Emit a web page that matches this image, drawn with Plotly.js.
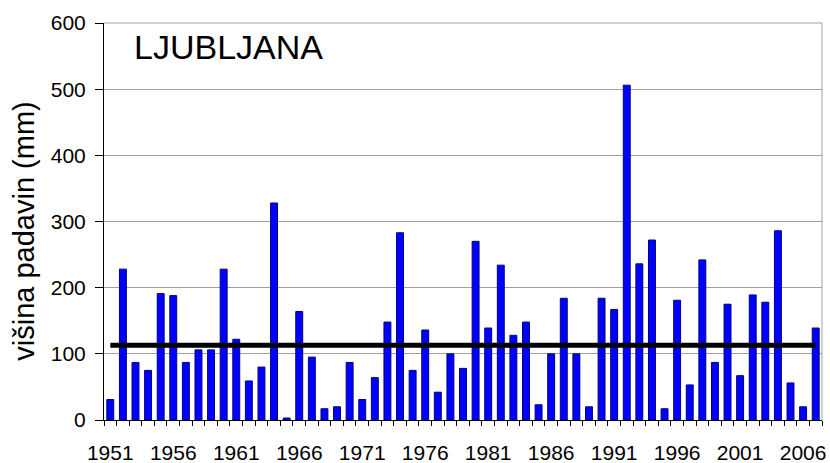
<!DOCTYPE html>
<html>
<head>
<meta charset="utf-8">
<script src="https://cdn.plot.ly/plotly-3.0.1.min.js"></script>
<style>
  body { margin: 0; background: #fff; }
  #chart { width: 830px; height: 463px; }
</style>
</head>
<body>
<div id="chart"></div>
<script>
// leta in višina padavin (mm), odčitano z grafa
const leta = [];
for (let y = 1951; y <= 2007; y++) leta.push(y);

const padavine = [
    31, 228, 87, 75, 191, 188, 87, 106, 106, 228,
    122, 59, 80, 328, 3, 164, 95, 17, 20, 87,
    31, 64, 148, 283, 75, 136, 42, 100, 78, 270,
    139, 234, 128, 148, 23, 100, 184, 100, 20, 184,
    167, 506, 236, 272, 17, 181, 53, 242, 87, 175,
    67, 189, 178, 286, 56, 20, 139
];

// povprečje (vodoravna črta)
const povprecje = 113;

const oznakeLet = [1951, 1956, 1961, 1966, 1971, 1976, 1981, 1986, 1991, 1996, 2001, 2006];
const yTicks = [0, 100, 200, 300, 400, 500, 600];

const font = 'Liberation Sans, Arial, sans-serif';

const barTrace = {
    x: leta,
    y: padavine,
    type: 'bar',
    width: 0.55,
    marker: {
        color: '#0000ff',
        line: { color: '#000080', width: 1 }
    },
    hoverinfo: 'x+y'
};

const avgTrace = {
    x: [leta[0], leta[leta.length - 1]],
    y: [povprecje, povprecje],
    type: 'scatter',
    mode: 'lines',
    line: { color: '#000000', width: 5 },
    hoverinfo: 'y'
};

const layout = {
    width: 830,
    height: 463,
    margin: { l: 104, r: 8, t: 23, b: 43 },
    paper_bgcolor: '#ffffff',
    plot_bgcolor: '#ffffff',
    showlegend: false,
    font: { family: font, color: '#000000' },
    xaxis: {
        range: [1950.5, 2007.5],
        tickvals: oznakeLet,
        ticktext: oznakeLet.map(String),
        ticks: '',
        ticklabelstandoff: 14,
        tickfont: { size: 21, family: font },
        showgrid: false,
        zeroline: false,
        showline: true,
        linecolor: '#000000',
        linewidth: 1,
        minor: {
            ticks: 'outside',
            tick0: 1950.5,
            dtick: 1,
            ticklen: 5,
            tickcolor: '#000000',
            showgrid: false
        }
    },
    yaxis: {
        range: [0, 600],
        tickvals: yTicks,
        ticks: 'outside',
        ticklen: 8,
        tickcolor: '#000000',
        ticklabelstandoff: 5,
        tickfont: { size: 21, family: font },
        showgrid: true,
        gridcolor: '#a0a0a0',
        gridwidth: 1,
        zeroline: false,
        showline: true,
        linecolor: '#000000',
        linewidth: 1
    },
    shapes: [
        // siv okvir risalne površine (zgoraj in desno)
        {
            type: 'line', xref: 'paper', yref: 'paper',
            x0: 0, x1: 1, y0: 1, y1: 1,
            line: { color: '#a0a0a0', width: 1 }
        },
        {
            type: 'line', xref: 'paper', yref: 'paper',
            x0: 1, x1: 1, y0: 0, y1: 1,
            line: { color: '#a0a0a0', width: 1 }
        }
    ],
    annotations: [
        {
            text: 'LJUBLJANA',
            xref: 'paper', yref: 'paper',
            x: 0.039, y: 0.94,
            xanchor: 'left', yanchor: 'middle',
            showarrow: false,
            font: { size: 34, family: font, color: '#000000' }
        },
        {
            // naslov osi y
            text: 'višina padavin (mm)',
            xref: 'paper', yref: 'paper',
            x: -0.111, y: 0.475,
            xanchor: 'center', yanchor: 'middle',
            textangle: -90,
            showarrow: false,
            font: { size: 29, family: font, color: '#000000' }
        }
    ]
};

Plotly.newPlot('chart', [barTrace, avgTrace], layout, { displayModeBar: false, staticPlot: true });
</script>
</body>
</html>
